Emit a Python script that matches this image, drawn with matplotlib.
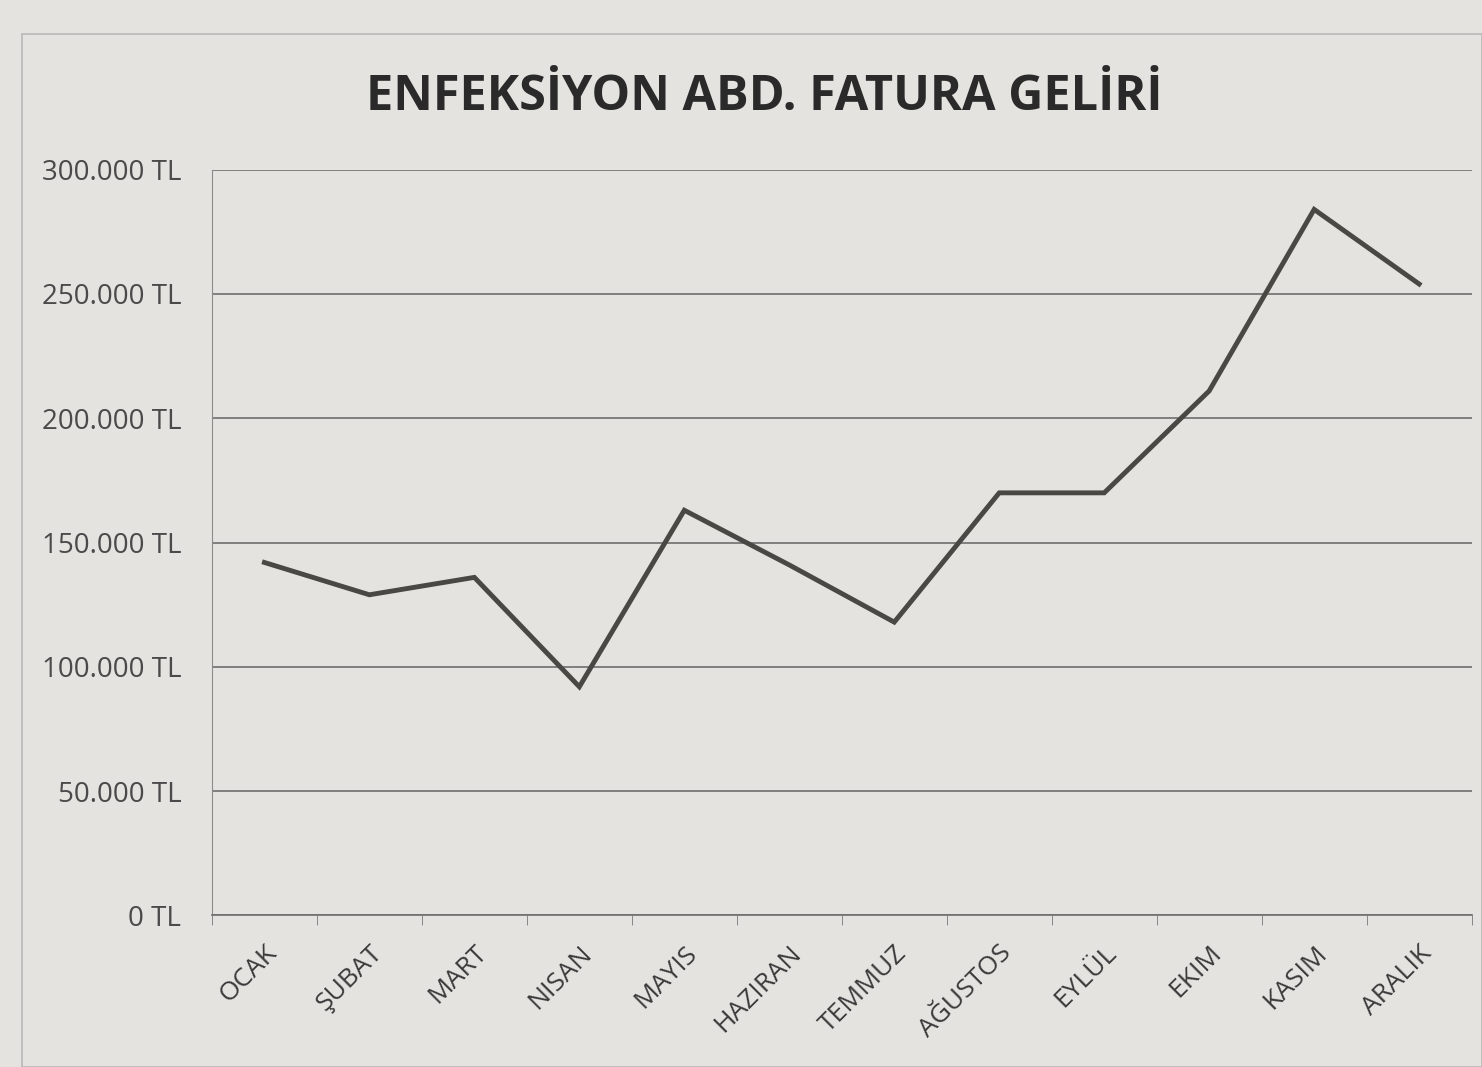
import matplotlib.pyplot as plt
import matplotlib.patches as mpatches
import numpy as np
from matplotlib.ticker import FuncFormatter, MultipleLocator

# Monthly invoice revenue (TL)
months = ['OCAK', 'ŞUBAT', 'MART', 'NISAN', 'MAYIS', 'HAZIRAN',
          'TEMMUZ', 'AĞUSTOS', 'EYLÜL', 'EKIM', 'KASIM', 'ARALIK']
revenue = [142000, 129000, 136000, 92000, 163000, 141000,
           118000, 170000, 170000, 211000, 284000, 254000]

PAPER = '#e4e3e0'
INK = '#3a3a3a'

plt.rcParams['font.family'] = ['Open Sans', 'DejaVu Sans']

fig = plt.figure(figsize=(14.82, 10.67), dpi=100, facecolor=PAPER)
ax = fig.add_axes([0.143, 0.142, 0.85, 0.699])
ax.set_facecolor(PAPER)

# outer chart frame
fig.patches.append(mpatches.Rectangle((0.015, 0.0), 0.985, 0.968,
                                      transform=fig.transFigure,
                                      fill=False, edgecolor='#b8b8b6', lw=1.2))

x = np.arange(len(months))
ax.plot(x, revenue, color='#4a4845', linewidth=3.5, solid_joinstyle='miter')

ax.set_xlim(-0.5, len(months) - 0.5)
ax.set_ylim(0, 300000)
ax.yaxis.set_major_locator(MultipleLocator(50000))
ax.yaxis.set_major_formatter(FuncFormatter(
    lambda v, p: f'{int(v):,} TL'.replace(',', '.')))
ax.grid(axis='y', color='#6e6e6c', linewidth=1.2)
ax.set_axisbelow(True)

ax.set_xticks(x)
ax.set_xticklabels(months, rotation=45, ha='right', rotation_mode='anchor')
ax.set_xticks(np.arange(-0.5, len(months)), minor=True)
ax.tick_params(axis='x', which='major', length=0, pad=18, labelsize=19, labelcolor=INK)
ax.tick_params(axis='x', which='minor', length=7, color='#777777')
ax.tick_params(axis='y', length=0, pad=22, labelsize=20, labelcolor='#4a4a4a')

for side in ['top', 'right']:
    ax.spines[side].set_visible(False)
ax.spines['left'].set_color('#8a8a88')
ax.spines['bottom'].set_color('#6e6e6c')
ax.spines['bottom'].set_linewidth(1.2)

fig.text(0.516, 0.909, 'ENFEKSİYON ABD. FATURA GELİRİ', ha='center', va='center',
         fontsize=35, fontweight='bold', color='#2a2a2a')

fig.savefig('out.png', dpi=100, facecolor=PAPER)
